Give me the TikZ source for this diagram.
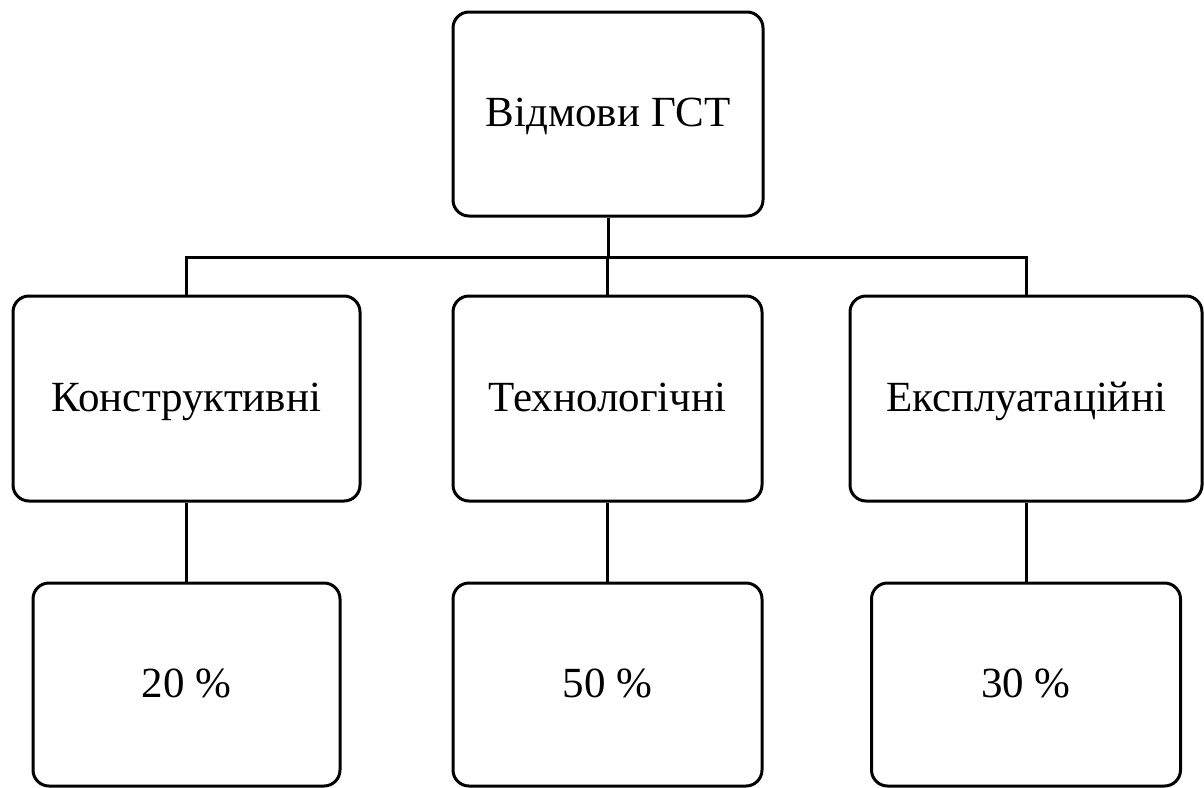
\documentclass[tikz,border=0pt]{standalone}
\usepackage{fontspec}
\setmainfont{Liberation Serif}
\begin{document}
\begin{tikzpicture}[x=1pt,y=-1pt,
  box/.style={draw=black, line width=3pt, rounded corners=16pt, inner sep=0pt,
    align=center, font=\fontsize{43}{50}\selectfont, fill=white,
    text height=31pt, text depth=6pt},
  conn/.style={draw=black, line width=3pt}]
\useasboundingbox (0,0) rectangle (1204,787);
\node[box, minimum width=310pt, minimum height=204pt] (top) at (608,114) {Відмови ГСТ};
\node[box, minimum width=347pt, minimum height=205pt] (k) at (186.5,398.5) {Конструктивні};
\node[box, minimum width=309pt, minimum height=205pt] (t) at (607.5,398.5) {Технологічні};
\node[box, minimum width=352pt, minimum height=205pt] (e) at (1026,398.5) {Експлуатаційні};
\node[box, minimum width=307pt, minimum height=203pt] (p20) at (186.5,684.5) {20 \%};
\node[box, minimum width=309pt, minimum height=203pt] (p50) at (607.5,684.5) {50 \%};
\node[box, minimum width=309pt, minimum height=203pt] (p30) at (1026,684.5) {30 \%};
\coordinate (bus) at (607.5,257);
\draw[conn] (top.south) -- (top.south |- bus);
\draw[conn] (bus) -| (k.north);
\draw[conn] (bus) -| (e.north);
\draw[conn] (bus) -- (t.north);
\draw[conn] (k.south) -- (p20.north);
\draw[conn] (t.south) -- (p50.north);
\draw[conn] (e.south) -- (p30.north);
\end{tikzpicture}
\end{document}
